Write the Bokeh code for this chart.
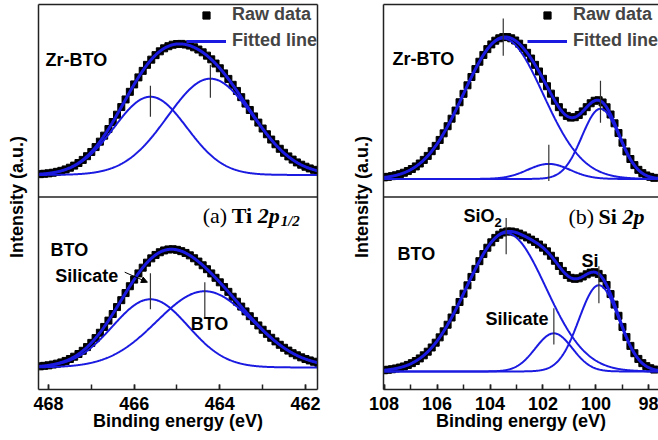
import numpy as np
from bokeh.plotting import figure
from bokeh.layouts import row
from bokeh.models import (Range1d, FixedTicker, Span, Label, Legend, LegendItem,
                          LinearAxis, Arrow, NormalHead)
from bokeh.embed import file_html
from bokeh.resources import INLINE

# ---------------- data ----------------
# (a) Ti 2p1/2  -- binding-energy grid (eV) and raw intensities (a.u.)
ti_energy = np.round(np.arange(468.2, 461.65, -0.1), 2)
ti_zrbto_raw = [0.8, 1.2, 1.6, 2.2, 3.1, 4.1, 5.5, 7.2, 9.3, 11.9,
                15.0, 18.7, 22.9, 27.8, 33.2, 39.2, 45.8, 52.8, 60.1, 67.7,
                75.3, 82.9, 90.3, 97.3, 103.8, 109.8, 115.0, 119.5, 123.3, 126.3,
                128.4, 129.9, 130.6, 130.7, 130.1, 129.0, 127.3, 125.1, 122.3, 119.0,
                115.3, 111.1, 106.4, 101.3, 95.8, 89.9, 83.8, 77.6, 71.2, 64.8,
                58.4, 52.2, 46.3, 40.6, 35.3, 30.6, 26.1, 22.1, 18.5, 15.3,
                12.5, 10.2, 8.2, 6.5, 5.1, 4.0]
ti_bto_raw = [1.1, 1.6, 2.1, 2.9, 3.8, 5.0, 6.5, 8.4, 10.7, 13.4,
              16.6, 20.3, 24.5, 29.3, 34.6, 40.4, 46.7, 53.3, 60.2, 67.1,
              74.2, 81.0, 87.6, 93.8, 99.5, 104.5, 108.8, 112.2, 114.9, 116.7,
              117.7, 117.9, 117.3, 116.0, 114.2, 111.8, 108.9, 105.6, 101.9, 98.0,
              93.8, 89.4, 84.9, 80.2, 75.4, 70.5, 65.6, 60.7, 55.9, 51.1,
              46.4, 41.9, 37.6, 33.5, 29.6, 26.0, 22.6, 19.6, 16.8, 14.2,
              12.1, 10.1, 8.4, 7.0, 5.7, 4.6]
# fitted peaks (centre eV, height, sigma eV)
ti_zrbto_centers = [465.62, 464.22]
ti_zrbto_heights = [78, 96]
ti_zrbto_sigmas = [0.85, 1.0]
ti_bto_centers = [465.62, 464.35]
ti_bto_heights = [68, 76]
ti_bto_sigmas = [0.88, 1.12]
# peak position marks (lower / upper intensity)
ti_zrbto_mark_lo = [58, 77]
ti_zrbto_mark_hi = [89, 110]
ti_bto_mark_lo = [58, 50]
ti_bto_mark_hi = [94, 85]

# (b) Si 2p
si_energy = np.round(np.arange(108.0, 97.75, -0.15), 2)
si_zrbto_raw = [1.6, 2.1, 2.8, 3.7, 4.8, 6.2, 7.9, 9.9, 12.5, 15.4,
                19.0, 23.0, 27.7, 33.0, 38.9, 45.5, 52.6, 60.1, 68.2, 76.5,
                84.9, 93.4, 101.7, 109.6, 116.9, 123.7, 129.5, 134.2, 137.9, 140.3,
                141.5, 141.5, 140.3, 138.1, 134.9, 130.7, 125.8, 120.1, 113.8, 107.2,
                99.9, 92.5, 85.1, 78.0, 71.6, 66.4, 62.9, 61.2, 61.6, 63.8,
                67.4, 71.6, 75.5, 78.0, 78.5, 76.3, 71.5, 64.3, 55.5, 45.8,
                36.2, 27.4, 19.9, 13.8, 9.1, 5.8, 3.5, 2.1, 1.1]
si_bto_raw = [1.2, 1.7, 2.2, 3.0, 3.9, 5.0, 6.5, 8.3, 10.4, 13.0,
              16.1, 19.7, 23.9, 28.7, 34.0, 40.0, 46.6, 53.8, 61.4, 69.3,
              77.6, 85.9, 94.3, 102.3, 110.0, 117.1, 123.4, 128.8, 133.2, 136.4,
              138.6, 139.6, 139.6, 138.8, 137.5, 135.7, 133.7, 131.5, 129.2, 126.6,
              123.5, 119.8, 115.4, 110.4, 105.2, 100.3, 96.2, 93.4, 92.4, 92.9,
              94.7, 96.9, 98.6, 99.0, 97.3, 93.0, 86.2, 77.2, 66.7, 55.5,
              44.4, 34.3, 25.5, 18.2, 12.5, 8.3, 5.3, 3.2, 1.9]
si_zrbto_centers = [103.5, 101.78, 99.83]
si_zrbto_heights = [140, 15, 70]
si_zrbto_sigmas = [1.5, 0.8, 0.7]
si_bto_centers = [103.39, 101.59, 99.89]
si_bto_heights = [138, 38, 86]
si_bto_sigmas = [1.5, 0.7, 0.75]
si_zrbto_mark_lo = [123, -2, 56]
si_zrbto_mark_hi = [160, 34, 98]
si_bto_mark_lo = [117, 27, 68]
si_bto_mark_hi = [153, 63, 105]

ti_ticks = [462, 464, 466, 468]
ti_minor = [461, 462, 463, 464, 465, 466, 467, 468, 469]
si_ticks = [98, 100, 102, 104, 106, 108]
si_minor = list(range(97, 110))

# ---------------- style ----------------
BLUE = "#1a1ae0"
EDGE = "#222222"
SANS = "Liberation Sans"
SERIF = "Liberation Serif"
PANEL = 192  # height of each stacked panel in intensity units


def gauss(x, c, a, s):
    return a * np.exp(-(x - c) ** 2 / (2 * s * s))


def make_fig(width, mb_left, mb_right, xr, ticks, minor, right_edge):
    p = figure(width=width, height=440, x_range=Range1d(*xr), y_range=Range1d(0, 2 * PANEL),
               output_backend="svg", toolbar_location=None,
               min_border_left=mb_left, min_border_right=mb_right,
               min_border_top=4, min_border_bottom=51)
    p.outline_line_color = None
    p.grid.visible = False
    p.background_fill_color = "white"
    p.border_fill_color = "white"
    xa = p.xaxis[0]
    xa.ticker = FixedTicker(ticks=ticks, minor_ticks=minor)
    xa.major_tick_in = 5
    xa.major_tick_out = 0
    xa.minor_tick_in = 5
    xa.minor_tick_out = 0
    xa.major_tick_line_width = 1.5
    xa.minor_tick_line_width = 1.5
    xa.axis_line_width = 1.5
    xa.axis_line_color = EDGE
    xa.major_tick_line_color = EDGE
    xa.minor_tick_line_color = EDGE
    xa.major_label_text_font = SANS
    xa.major_label_text_font_style = "bold"
    xa.major_label_text_font_size = "18px"
    xa.major_label_text_color = "black"
    xa.major_label_standoff = 7
    xa.axis_label = "Binding energy (eV)"
    xa.axis_label_text_font = SANS
    xa.axis_label_text_font_style = "bold"
    xa.axis_label_text_font_size = "18px"
    xa.axis_label_text_color = "black"
    xa.axis_label_standoff = -2

    ya = p.yaxis[0]
    ya.ticker = FixedTicker(ticks=[])
    ya.major_tick_in = 0
    ya.major_tick_out = 0
    ya.minor_tick_in = 0
    ya.minor_tick_out = 0
    ya.major_label_standoff = 0
    ya.axis_line_width = 1.5
    ya.axis_line_color = EDGE
    ya.axis_label = "Intensity (a.u.)"
    ya.axis_label_text_font = SANS
    ya.axis_label_text_font_style = "bold"
    ya.axis_label_text_font_size = "18px"
    ya.axis_label_text_color = "black"
    ya.axis_label_standoff = 12

    sides = ["above"] + (["right"] if right_edge else [])
    for side in sides:
        ax = LinearAxis(ticker=FixedTicker(ticks=[]), major_tick_in=0, major_tick_out=0,
                        minor_tick_in=0, minor_tick_out=0, major_label_standoff=0,
                        axis_line_width=1.5, axis_line_color=EDGE)
        p.add_layout(ax, side)
    p.add_layout(Span(location=PANEL, dimension="width", line_color=EDGE, line_width=1.5))
    return p


def draw(p, energy, raw, centers, heights, sigmas, lo, hi, base, xr):
    xf = np.linspace(xr[0], xr[1], 500)
    comps = [gauss(xf, c, a, s) for c, a, s in zip(centers, heights, sigmas)]
    raw_r = p.scatter(energy, np.array(raw) + base, marker="square", size=7,
                      fill_color="black", line_color="black")
    for comp in comps:
        p.line(xf, comp + base, line_color=BLUE, line_width=2)
    env_r = p.line(xf, np.sum(comps, axis=0) + base, line_color=BLUE, line_width=3)
    p.segment(x0=centers, y0=np.array(lo) + base, x1=centers, y1=np.array(hi) + base,
              line_color="#333333", line_width=1.2)
    return raw_r, env_r


def add_legend(p, raw_r, env_r):
    leg = Legend(items=[LegendItem(label="Raw data", renderers=[raw_r]),
                        LegendItem(label="Fitted line", renderers=[env_r])],
                 location="top_right", border_line_color=None, background_fill_alpha=0,
                 label_text_font=SANS, label_text_font_style="bold",
                 label_text_font_size="18px", glyph_width=40, glyph_height=18,
                 label_height=18, spacing=5, padding=3, margin=0, label_standoff=6)
    p.add_layout(leg)


def lab(p, x, y, text, size="18px", font=SANS, style="bold", dx=0, dy=0):
    p.add_layout(Label(x=x, y=y, text=text, text_font=font, text_font_style=style,
                       text_font_size=size, text_baseline="middle", text_align="left",
                       text_color="black", x_offset=dx, y_offset=dy))


# ---------------- left: Ti 2p1/2 ----------------
ti_xr = (468.233, 461.719)
p1 = make_fig(335, 38, 18, ti_xr, ti_ticks, ti_minor, True)
r1, e1 = draw(p1, ti_energy, ti_zrbto_raw, ti_zrbto_centers, ti_zrbto_heights,
              ti_zrbto_sigmas, ti_zrbto_mark_lo, ti_zrbto_mark_hi, PANEL + 22, ti_xr)
draw(p1, ti_energy, ti_bto_raw, ti_bto_centers, ti_bto_heights, ti_bto_sigmas,
     ti_bto_mark_lo, ti_bto_mark_hi, 22, ti_xr)
add_legend(p1, r1, e1)
lab(p1, 468.07, 329, "Zr-BTO")
lab(p1, 467.95, 139, "BTO")
lab(p1, 467.84, 113, "Silicate")
lab(p1, 464.68, 65, "BTO")
lab(p1, 464.40, 174, "(a)", size="22px", font=SERIF, style="normal")
lab(p1, 464.40, 174, "Ti", size="22px", font=SERIF, style="bold", dx=29)
lab(p1, 464.40, 174, "2p", size="22px", font=SERIF, style="bold italic", dx=55)
lab(p1, 464.40, 174, "1/2", size="15px", font=SERIF, style="bold italic", dx=78, dy=-6)
p1.add_layout(Arrow(end=NormalHead(size=6, fill_color="black", line_color="black"),
                    x_start=466.22, y_start=117, x_end=465.69, y_end=107,
                    line_color="black", line_width=1))

# ---------------- right: Si 2p ----------------
si_xr = (108.02, 97.64)
p2 = make_fig(323, 48, 0, si_xr, si_ticks, si_minor, False)
r2, e2 = draw(p2, si_energy, si_zrbto_raw, si_zrbto_centers, si_zrbto_heights,
              si_zrbto_sigmas, si_zrbto_mark_lo, si_zrbto_mark_hi, PANEL + 18, si_xr)
draw(p2, si_energy, si_bto_raw, si_bto_centers, si_bto_heights, si_bto_sigmas,
     si_bto_mark_lo, si_bto_mark_hi, 18, si_xr)
add_legend(p2, r2, e2)
lab(p2, 107.68, 330, "Zr-BTO")
lab(p2, 107.49, 135, "BTO")
lab(p2, 105.0, 173, "SiO")
lab(p2, 105.0, 173, "2", size="13px", dx=31, dy=-6)
lab(p2, 100.55, 128, "Si")
lab(p2, 104.17, 70, "Silicate")
lab(p2, 101.04, 173, "(b)", size="22px", font=SERIF, style="normal")
lab(p2, 101.04, 173, "Si", size="22px", font=SERIF, style="bold", dx=30)
lab(p2, 101.04, 173, "2p", size="22px", font=SERIF, style="bold italic", dx=54)

layout = row(p1, p2)
open("out.html", "w").write(file_html(layout, INLINE))
